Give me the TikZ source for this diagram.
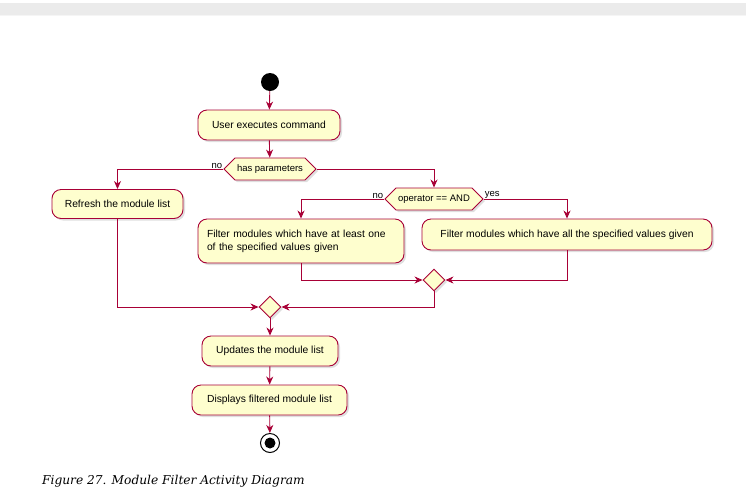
\documentclass[tikz,border=0pt]{standalone}
\usepackage{fontspec}
\setmainfont{Liberation Sans}
\newfontfamily\capfont{DejaVu Serif}
\usetikzlibrary{shapes.geometric,shapes.symbols,arrows.meta,shadows}
\definecolor{pfill}{HTML}{FEFECE}
\definecolor{pline}{HTML}{A80036}
\definecolor{band}{HTML}{EBEBEB}
\begin{document}
\begin{tikzpicture}[x=1pt,y=-1pt,
  shd/.style={drop shadow={shadow xshift=2pt,shadow yshift=-2pt,opacity=0.25}},
  act/.style={draw=pline,fill=pfill,rounded corners=9pt,line width=0.9pt,minimum height=30pt,
    inner xsep=9pt,font=\fontsize{10.3}{13}\selectfont,shd},
  dec/.style={draw=pline,fill=pfill,line width=0.9pt,signal,signal to=east and west,
    signal pointer angle=90,minimum height=22pt,inner xsep=2pt,inner ysep=0pt,
    font=\fontsize{9.5}{11}\selectfont,shd},
  mrg/.style={draw=pline,fill=pfill,line width=0.9pt,diamond,minimum width=22pt,minimum height=22pt,inner sep=0pt,shd},
  arr/.style={draw=pline,line width=0.9pt,-{Stealth[length=8pt,width=7pt,inset=2.5pt]}},
  lbl/.style={font=\fontsize{9.5}{11}\selectfont,inner sep=1pt}]
\useasboundingbox (0,0) rectangle (746,499);
\fill[band] (0,3) rectangle (746,15);
\fill[band!50] (0,15) rectangle (746,16);

\node[circle,fill=black,minimum size=18pt,inner sep=0pt] (start) at (270,82) {};
\node[act,minimum width=142pt] (a1) at (269,125) {User executes command};
\node[dec] (d1) at (270,169) {has parameters};
\node[act,minimum width=131pt,minimum height=29pt] (refresh) at (117.5,204) {Refresh the module list};
\node[dec] (d2) at (434,199) {operator == AND};
\node[act,minimum width=206pt,minimum height=44pt,text width=188pt,align=left,inner xsep=9pt,
  font=\fontsize{10.3}{13}\selectfont] (fa) at (301,241)
  {Filter modules which have at least one\\of the specified values given};
\node[act,minimum width=290pt,minimum height=31pt] (fb) at (567,234.5)
  {Filter modules which have all the specified values given};
\node[mrg] (m2) at (434,280) {};
\node[mrg] (m1) at (270,307) {};
\node[act,minimum width=136pt] (upd) at (270,351) {Updates the module list};
\node[act,minimum width=155pt] (disp) at (269.5,400) {Displays filtered module list};
\node[circle,draw=black,fill=white,line width=1pt,minimum size=19pt,inner sep=0pt] (end) at (270,443) {};
\node[circle,fill=black,minimum size=11pt,inner sep=0pt] (endin) at (end.center) {};

\draw[arr] (start) -- (a1);
\draw[arr] (a1) -- (d1);
\draw[arr] (d1.west) -| (refresh.north);
\node[lbl,anchor=south east] (lno1) at ([yshift=-1pt]d1.west) {no};
\draw[arr] (d1.east) -| (d2.north);
\draw[arr] (d2.west) -| (fa.north);
\node[lbl,anchor=south east] (lno2) at ([yshift=-1pt]d2.west) {no};
\draw[arr] (d2.east) -| (fb.north);
\node[lbl,anchor=south west] (lyes) at ([yshift=-1pt]d2.east) {yes};
\draw[arr] (fa.south) |- (m2.west);
\draw[arr] (fb.south) |- (m2.east);
\draw[arr] (refresh.south) |- (m1.west);
\draw[arr] (m2.south) |- (m1.east);
\draw[arr] (m1) -- (upd);
\draw[arr] (upd) -- (disp);
\draw[arr] (disp) -- (end);

\node[anchor=base west,inner sep=0pt,font=\capfont\itshape\fontsize{12.2}{15}\selectfont] (cap) at (42,484)
  {Figure 27. Module Filter Activity Diagram};
\end{tikzpicture}
\end{document}
